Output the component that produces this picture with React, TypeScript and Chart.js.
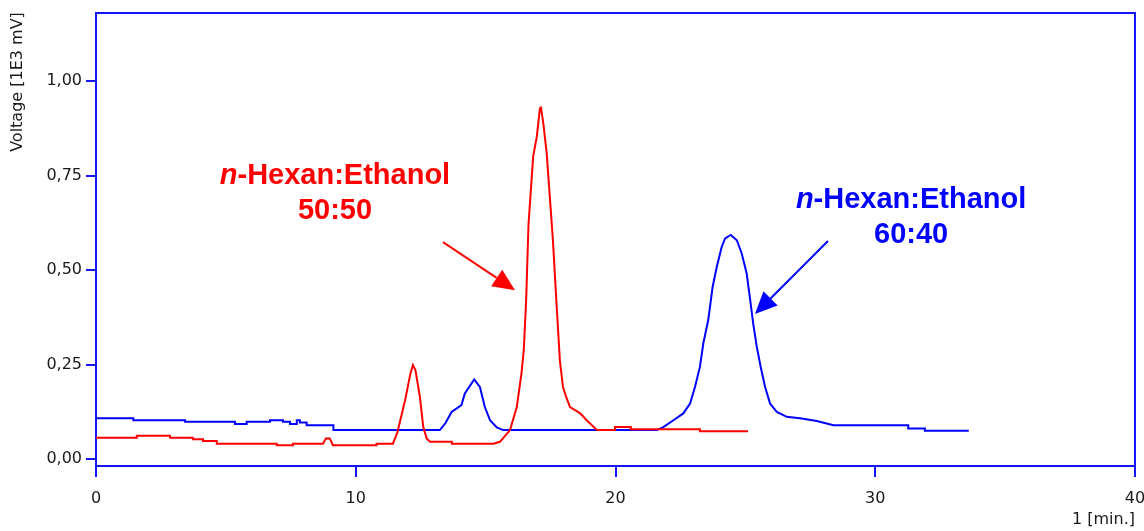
import React, { useEffect, useRef } from 'react';
import { Chart, registerables } from 'chart.js';

Chart.register(...registerables);

// Chromatogram 50:50 (red) – time [min] / voltage [1E3 mV]
const RED_TIME = [
  0, 1.57, 1.57, 2.85, 2.85, 3.73, 3.73, 4.12, 4.12, 4.65, 4.65, 6.96, 6.96, 7.58, 7.58, 8.74,
  8.85, 9.0, 9.12, 10.8, 10.8, 11.43, 11.6, 11.9, 12.1, 12.2, 12.3, 12.47, 12.6, 12.73, 12.86,
  13.7, 13.7, 15.3, 15.55, 15.94, 16.2, 16.38, 16.47, 16.56, 16.65, 16.83, 16.97, 17.09, 17.13,
  17.22, 17.35, 17.48, 17.59, 17.73, 17.86, 17.98, 18.1, 18.25, 18.63, 18.89, 19.27, 19.34,
  19.98, 19.98, 20.59, 20.59, 23.25, 23.25, 25.1,
];
const RED_VOLT = [
  0.057, 0.057, 0.062, 0.062, 0.057, 0.057, 0.053, 0.053, 0.048, 0.048, 0.041, 0.041, 0.037, 0.037, 0.041, 0.041,
  0.055, 0.055, 0.037, 0.037, 0.041, 0.041, 0.07, 0.156, 0.225, 0.249, 0.235, 0.165, 0.085, 0.055, 0.046,
  0.046, 0.041, 0.041, 0.046, 0.077, 0.138, 0.227, 0.29, 0.42, 0.62, 0.8, 0.853, 0.928, 0.93,
  0.889, 0.81, 0.685, 0.58, 0.41, 0.26, 0.19, 0.165, 0.138, 0.122, 0.103, 0.078, 0.077,
  0.077, 0.085, 0.085, 0.079, 0.079, 0.074, 0.074,
];

// Chromatogram 60:40 (blue)
const BLUE_TIME = [
  0, 1.44, 1.44, 3.43, 3.43, 5.35, 5.35, 5.8, 5.8, 6.7, 6.7, 7.2, 7.2, 7.47, 7.47, 7.73, 7.73, 7.85,
  7.85, 8.11, 8.11, 9.14, 9.14, 13.24, 13.45, 13.69, 14.07, 14.2, 14.56, 14.78, 14.97, 15.17, 15.43,
  15.67, 21.59, 21.84, 22.23, 22.61, 22.87, 23.06, 23.25, 23.38, 23.57, 23.74, 23.9, 24.09, 24.22,
  24.44, 24.67, 24.86, 25.05, 25.17, 25.3, 25.44, 25.59, 25.76, 25.95, 26.21, 26.59, 27.1, 27.75,
  28.39, 31.27, 31.27, 31.91, 31.91, 33.6,
];
const BLUE_VOLT = [
  0.108, 0.108, 0.103, 0.103, 0.099, 0.099, 0.093, 0.093, 0.099, 0.099, 0.103, 0.103, 0.099, 0.099, 0.093, 0.093, 0.103, 0.103,
  0.097, 0.097, 0.09, 0.09, 0.077, 0.077, 0.095, 0.125, 0.143, 0.174, 0.211, 0.191, 0.138, 0.103, 0.084,
  0.077, 0.077, 0.085, 0.103, 0.121, 0.147, 0.191, 0.244, 0.306, 0.368, 0.456, 0.509, 0.562, 0.584,
  0.593, 0.579, 0.544, 0.491, 0.429, 0.359, 0.297, 0.244, 0.191, 0.147, 0.125, 0.112, 0.108, 0.101,
  0.09, 0.09, 0.081, 0.081, 0.075, 0.075,
];

const X_TICKS = [0, 10, 20, 30, 40];
const Y_TICKS = [0, 0.25, 0.5, 0.75, 1.0];
const Y_TITLE = 'Voltage [1E3 mV]';
const X_UNIT = '1 [min.]';

const RED_NOTE = { italic: 'n', rest: '-Hexan:Ethanol', line2: '50:50' };
const BLUE_NOTE = { italic: 'n', rest: '-Hexan:Ethanol', line2: '60:40' };

const RED = 'rgb(255,0,0)';
const BLUE = 'rgb(0,0,255)';
const FRAME = 'rgb(20,20,255)';
const TEXT = '#1a1a1a';
const TICK_FONT = { family: '"DejaVu Sans", sans-serif', size: 16 };

function toPoints(xs: number[], ys: number[]) {
  return xs.map((x, i) => ({ x, y: ys[i] }));
}

const decorPlugin = {
  id: 'decor',
  afterDatasetsDraw(chart: any) {
    const { ctx, chartArea, scales } = chart;
    const xs = scales.x;
    const ys = scales.y;
    ctx.save();
    // frame (top, right)
    ctx.strokeStyle = FRAME;
    ctx.lineWidth = 2;
    ctx.beginPath();
    ctx.moveTo(chartArea.left, chartArea.top);
    ctx.lineTo(chartArea.right, chartArea.top);
    ctx.lineTo(chartArea.right, chartArea.bottom);
    ctx.stroke();

    // y title
    ctx.fillStyle = TEXT;
    ctx.font = '16px "DejaVu Sans", sans-serif';
    ctx.save();
    ctx.translate(18, 82);
    ctx.rotate(-Math.PI / 2);
    ctx.textAlign = 'center';
    ctx.textBaseline = 'middle';
    ctx.fillText(Y_TITLE, 0, 0);
    ctx.restore();

    // x unit
    ctx.textAlign = 'right';
    ctx.textBaseline = 'middle';
    ctx.fillText(X_UNIT, chartArea.right, 520);

    const note = (n: any, color: string, cx: number, b1: number, b2: number) => {
      const px = xs.getPixelForValue(cx);
      const y1 = ys.getPixelForValue(b1);
      const y2 = ys.getPixelForValue(b2);
      ctx.fillStyle = color;
      ctx.textBaseline = 'alphabetic';
      ctx.textAlign = 'left';
      const fi = 'italic bold 29px "Liberation Sans", Arial, sans-serif';
      const fb = 'bold 29px "Liberation Sans", Arial, sans-serif';
      ctx.font = fi;
      const wi = ctx.measureText(n.italic).width;
      ctx.font = fb;
      const wr = ctx.measureText(n.rest).width;
      const start = px - (wi + wr) / 2;
      ctx.font = fi;
      ctx.fillText(n.italic, start, y1);
      ctx.font = fb;
      ctx.fillText(n.rest, start + wi, y1);
      ctx.textAlign = 'center';
      ctx.fillText(n.line2, px, y2);
    };

    const arrow = (color: string, fx: number, fy: number, tx: number, ty: number) => {
      const x0 = xs.getPixelForValue(fx);
      const y0 = ys.getPixelForValue(fy);
      const x1 = xs.getPixelForValue(tx);
      const y1 = ys.getPixelForValue(ty);
      const ang = Math.atan2(y1 - y0, x1 - x0);
      const len = 22;
      const hw = 10;
      const bx = x1 - len * Math.cos(ang);
      const by = y1 - len * Math.sin(ang);
      ctx.strokeStyle = color;
      ctx.fillStyle = color;
      ctx.lineWidth = 2;
      ctx.beginPath();
      ctx.moveTo(x0, y0);
      ctx.lineTo(bx, by);
      ctx.stroke();
      ctx.beginPath();
      ctx.moveTo(x1, y1);
      ctx.lineTo(bx + hw * Math.sin(ang), by - hw * Math.cos(ang));
      ctx.lineTo(bx - hw * Math.sin(ang), by + hw * Math.cos(ang));
      ctx.closePath();
      ctx.fill();
    };

    note(RED_NOTE, RED, 9.2, 0.729, 0.636);
    arrow(RED, 13.36, 0.574, 16.13, 0.447);
    note(BLUE_NOTE, BLUE, 31.38, 0.664, 0.571);
    arrow(BLUE, 28.18, 0.577, 25.37, 0.384);
    ctx.restore();
  },
};

export default function App() {
  const ref = useRef<HTMLCanvasElement | null>(null);
  useEffect(() => {
    if (!ref.current) return;
    const chart = new Chart(ref.current, {
      type: 'line',
      data: {
        datasets: [
          {
            label: '60:40',
            data: toPoints(BLUE_TIME, BLUE_VOLT),
            borderColor: BLUE,
            borderWidth: 2,
            pointRadius: 0,
            fill: false,
            tension: 0,
            order: 2,
          },
          {
            label: '50:50',
            data: toPoints(RED_TIME, RED_VOLT),
            borderColor: RED,
            borderWidth: 2,
            pointRadius: 0,
            fill: false,
            tension: 0,
            order: 1,
          },
        ],
      },
      options: {
        animation: false,
        responsive: true,
        maintainAspectRatio: false,
        layout: { padding: { top: 13, right: 9, left: 0, bottom: 0 } },
        plugins: { legend: { display: false }, tooltip: { enabled: false } },
        scales: {
          x: {
            type: 'linear',
            min: 0,
            max: 40,
            afterBuildTicks: (s: any) => {
              s.ticks = X_TICKS.map((v) => ({ value: v }));
            },
            afterFit: (s: any) => {
              s.height = 65;
              s.paddingLeft = 0;
              s.paddingRight = 0;
            },
            border: { color: FRAME, width: 2 },
            grid: { drawOnChartArea: false, drawTicks: true, tickLength: 11, color: FRAME, lineWidth: 2 },
            ticks: { color: TEXT, font: TICK_FONT, padding: 12, maxRotation: 0, callback: (v: any) => String(v) },
          },
          y: {
            type: 'linear',
            min: -0.018,
            max: 1.18,
            afterBuildTicks: (s: any) => {
              s.ticks = Y_TICKS.map((v) => ({ value: v }));
            },
            afterFit: (s: any) => {
              s.width = 96;
              s.paddingTop = 0;
              s.paddingBottom = 0;
            },
            border: { color: FRAME, width: 2 },
            grid: { drawOnChartArea: false, drawTicks: true, tickLength: 10, color: FRAME, lineWidth: 2 },
            ticks: {
              color: TEXT,
              font: TICK_FONT,
              padding: 4,
              callback: (v: any) => Number(v).toFixed(2).replace('.', ','),
            },
          },
        },
      },
      plugins: [decorPlugin],
    });
    return () => chart.destroy();
  }, []);
  return (
    <div style={{ position: 'absolute', left: 0, top: 0, width: 1144, height: 531, background: '#fff' }}>
      <canvas ref={ref} />
    </div>
  );
}
